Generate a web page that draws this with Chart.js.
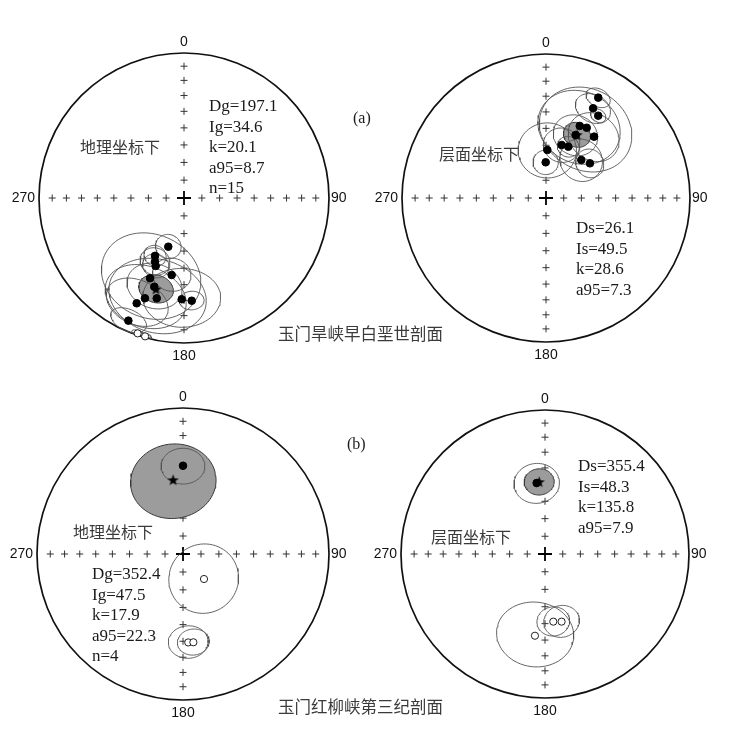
<!DOCTYPE html>
<html>
<head>
<meta charset="utf-8">
<script src="https://cdn.jsdelivr.net/npm/chart.js@4.4.0/dist/chart.umd.min.js"></script>
<style>
    body { margin: 0; background: #fff; width: 748px; height: 729px; position: relative; overflow: hidden; }
    canvas { position: absolute; }
    .t { position: absolute; white-space: nowrap; }
    .st { font-family: "Liberation Serif", serif; font-size: 17px; line-height: 20.5px; color: #1a1a1a; }
    .cn { font-family: "Noto Sans CJK SC", sans-serif; font-size: 16px; line-height: 16px; color: #3a3a3a; }
</style>
</head>
<body>
<canvas id="netA1" width="360" height="360" style="left:4px;top:18px"></canvas>
<canvas id="netA2" width="360" height="360" style="left:366px;top:18px"></canvas>
<canvas id="netB1" width="360" height="360" style="left:3px;top:374px"></canvas>
<canvas id="netB2" width="360" height="360" style="left:365px;top:374px"></canvas>

<div class="t st" id="statA1" style="left:209px;top:96px"></div>
<div class="t st" id="statA2" style="left:576px;top:218px"></div>
<div class="t st" id="statB1" style="left:92px;top:564px"></div>
<div class="t st" id="statB2" style="left:578px;top:456px"></div>

<div class="t cn" style="left:80px;top:138px">地理坐标下</div>
<div class="t cn" style="left:439px;top:145px">层面坐标下</div>
<div class="t cn" style="left:73px;top:523px">地理坐标下</div>
<div class="t cn" style="left:431px;top:528px">层面坐标下</div>
<div class="t cn" style="left:278px;top:325px;font-size:16.5px">玉门旱峡早白垩世剖面</div>
<div class="t cn" style="left:278px;top:698px;font-size:16.5px">玉门红柳峡第三纪剖面</div>
<div class="t st" style="left:353px;top:108px;font-size:16px">(a)</div>
<div class="t st" style="left:347px;top:434px;font-size:16px">(b)</div>

<script>
// (a) 玉门旱峡早白垩世剖面 - geographic coordinates
const a1Dec = [197.9, 206.6, 204.5, 202.6, 189.1, 202.9, 198.5, 201.3, 195.2, 204.2, 181.3, 175.7, 204.4, 198.9, 195.7];
const a1Inc = [61.1, 53.2, 50.1, 47.9, 45.3, 39.7, 35.7, 26.7, 29.1, 21.5, 30.8, 29.7, 7.9, -1.5, -1.0];
const a1A95 = [7, 6, 8, 7, 10, 26, 14, 20, 24, 15, 19, 6, 8, 2.5, 2.5];
const a1Mean = [197.1, 34.6, 8.7];
const a1K = 20.1, a1N = 15;

// (a) bedding coordinates
const a2Dec = [27.5, 27.7, 32.4, 25.1, 30.1, 25.2, 38.1, 16.5, 23.5, 1.6, 359.5, 42.9, 51.7];
const a2Inc = [22.5, 30.3, 32.8, 44.0, 43.0, 50.0, 45.0, 58.5, 58.1, 62.7, 69.8, 60.5, 58.1];
const a2A95 = [6, 9, 4, 22, 25, 12, 14, 10, 6, 16, 7, 12, 8];
const a2Mean = [26.1, 49.5, 7.3];
const a2K = 28.6;

// (b) 玉门红柳峡第三纪剖面 - geographic coordinates
const b1Dec = [0.0, 140.0, 176.6, 173.3];
const b1Inc = [39.4, -71.8, -39.2, -39.0];
const b1A95 = [11, 19.4, 10, 8];
const b1Mean = [352.4, 47.5, 22.3];
const b1K = 17.9, b1N = 4;

// (b) bedding coordinates
const b2Dec = [353.3, 173.0, 166.2, 187.0];
const b2Inc = [48.9, -50.9, -50.0, -42.3];
const b2A95 = [12, 8.7, 9.5, 20];
const b2Mean = [355.4, 48.3, 7.9];
const b2K = 135.8;

const tickIncs = [10, 20, 30, 40, 50, 60, 70, 80];
const axisDecs = [0, 90, 180, 270];
const axisLabels = ['0', '90', '180', '270'];

const RAD = Math.PI / 180;

// equal-area (Schmidt) projection, unit radius
function proj(dec, inc) {
    const r = Math.SQRT2 * Math.sin((90 - Math.abs(inc)) * RAD / 2);
    return { x: r * Math.sin(dec * RAD), y: r * Math.cos(dec * RAD) };
}

// small circle of half-angle a95 around a direction
function cone(dec, inc, a95) {
    const D = dec * RAD, I = inc * RAD, a = a95 * RAD;
    const v = [Math.cos(I) * Math.cos(D), Math.cos(I) * Math.sin(D), Math.sin(I)];
    const u = [-Math.sin(I) * Math.cos(D), -Math.sin(I) * Math.sin(D), Math.cos(I)];
    const w = [-Math.sin(D), Math.cos(D), 0];
    const pts = [];
    for (let t = 0; t <= 360; t += 5) {
        const c = Math.cos(t * RAD), s = Math.sin(t * RAD);
        const p = [0, 1, 2].map(k => Math.cos(a) * v[k] + Math.sin(a) * (c * u[k] + s * w[k]));
        const pInc = Math.asin(Math.max(-1, Math.min(1, p[2]))) / RAD;
        const pDec = Math.atan2(p[1], p[0]) / RAD;
        pts.push(proj(pDec, pInc));
    }
    return pts;
}

const starImg = (() => {
    const c = document.createElement('canvas');
    c.width = 13; c.height = 13;
    const g = c.getContext('2d');
    g.fillStyle = '#000';
    g.beginPath();
    for (let i = 0; i < 10; i++) {
        const r = i % 2 ? 2.4 : 6, ang = -Math.PI / 2 + i * Math.PI / 5;
        g.lineTo(6.5 + r * Math.cos(ang), 7 + r * Math.sin(ang));
    }
    g.closePath();
    g.fill();
    return c;
})();

const netPlugin = {
    id: 'net',
    beforeDatasetsDraw(chart) {
        const { ctx, scales: { x, y } } = chart;
        const cx = x.getPixelForValue(0), cy = y.getPixelForValue(0);
        const R = x.getPixelForValue(1) - cx;
        const cross = (px, py, s) => {
            ctx.beginPath();
            ctx.moveTo(px - s, py); ctx.lineTo(px + s, py);
            ctx.moveTo(px, py - s); ctx.lineTo(px, py + s);
            ctx.stroke();
        };
        ctx.save();
        ctx.strokeStyle = '#111';
        ctx.lineWidth = 1.7;
        ctx.beginPath();
        ctx.arc(cx, cy, R, 0, 2 * Math.PI);
        ctx.stroke();
        ctx.strokeStyle = '#333';
        ctx.lineWidth = 1;
        axisDecs.forEach(dec => tickIncs.forEach(inc => {
            const p = proj(dec, inc);
            cross(x.getPixelForValue(p.x), y.getPixelForValue(p.y), 3.5);
        }));
        ctx.strokeStyle = '#000';
        ctx.lineWidth = 1.8;
        cross(cx, cy, 7);
        ctx.fillStyle = '#111';
        ctx.font = '14px "Liberation Sans", Arial, sans-serif';
        ctx.textBaseline = 'middle';
        ctx.textAlign = 'center';
        ctx.fillText(axisLabels[0], cx, cy - R - 11);
        ctx.fillText(axisLabels[2], cx, cy + R + 13);
        ctx.textAlign = 'left';
        ctx.fillText(axisLabels[1], cx + R + 2, cy);
        ctx.textAlign = 'right';
        ctx.fillText(axisLabels[3], cx - R - 4, cy);
        ctx.restore();
    }
};

function makeNet(id, R, decs, incs, a95s, mean) {
    const datasets = [];
    datasets.push({
        data: cone(mean[0], mean[1], mean[2]),
        showLine: true, fill: 'shape', backgroundColor: '#9c9c9c',
        borderColor: '#3a3a3a', borderWidth: 1, pointRadius: 0, order: 4
    });
    decs.forEach((d, i) => datasets.push({
        data: cone(d, incs[i], a95s[i]),
        showLine: true, fill: false, borderColor: '#555',
        borderWidth: 0.9, pointRadius: 0, order: 3
    }));
    const down = [], up = [];
    decs.forEach((d, i) => (incs[i] >= 0 ? down : up).push(proj(d, incs[i])));
    datasets.push({
        data: up, pointRadius: 3.6, backgroundColor: '#fff',
        borderColor: '#222', borderWidth: 1, order: 2
    });
    datasets.push({
        data: down, pointRadius: 3.8, backgroundColor: '#000',
        borderColor: '#000', borderWidth: 1, order: 1
    });
    datasets.push({
        data: [proj(mean[0], mean[1])], pointStyle: starImg, order: 0
    });
    const pad = 180 - R;
    return new Chart(document.getElementById(id), {
        type: 'scatter',
        data: { datasets },
        options: {
            responsive: false,
            animation: false,
            events: [],
            layout: { padding: pad },
            plugins: { legend: { display: false }, tooltip: { enabled: false } },
            scales: {
                x: { type: 'linear', min: -1, max: 1, display: false },
                y: { type: 'linear', min: -1, max: 1, display: false }
            }
        },
        plugins: [netPlugin]
    });
}

makeNet('netA1', 145, a1Dec, a1Inc, a1A95, a1Mean);
makeNet('netA2', 144, a2Dec, a2Inc, a2A95, a2Mean);
makeNet('netB1', 146, b1Dec, b1Inc, b1A95, b1Mean);
makeNet('netB2', 144, b2Dec, b2Inc, b2A95, b2Mean);

const statHtml = (lines) => lines.join('<br>');
document.getElementById('statA1').innerHTML = statHtml([
    'Dg=' + a1Mean[0].toFixed(1), 'Ig=' + a1Mean[1].toFixed(1), 'k=' + a1K.toFixed(1),
    'a95=' + a1Mean[2].toFixed(1), 'n=' + a1N]);
document.getElementById('statA2').innerHTML = statHtml([
    'Ds=' + a2Mean[0].toFixed(1), 'Is=' + a2Mean[1].toFixed(1), 'k=' + a2K.toFixed(1),
    'a95=' + a2Mean[2].toFixed(1)]);
document.getElementById('statB1').innerHTML = statHtml([
    'Dg=' + b1Mean[0].toFixed(1), 'Ig=' + b1Mean[1].toFixed(1), 'k=' + b1K.toFixed(1),
    'a95=' + b1Mean[2].toFixed(1), 'n=' + b1N]);
document.getElementById('statB2').innerHTML = statHtml([
    'Ds=' + b2Mean[0].toFixed(1), 'Is=' + b2Mean[1].toFixed(1), 'k=' + b2K.toFixed(1),
    'a95=' + b2Mean[2].toFixed(1)]);
</script>
</body>
</html>
